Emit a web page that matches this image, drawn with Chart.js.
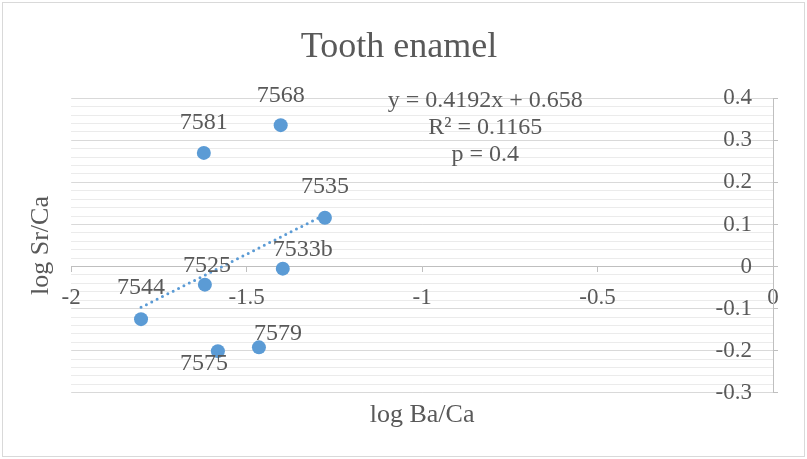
<!DOCTYPE html>
<html><head><meta charset="utf-8">
<script src="https://cdn.jsdelivr.net/npm/chart.js@4.4.0/dist/chart.umd.min.js"></script>
<style>html,body{margin:0;padding:0;background:#fff}canvas{display:block}</style>
</head><body>
<canvas id="c" width="807" height="459"></canvas>
<script>
// ---- data ----
const sampleLabels = ['7568', '7581', '7535', '7533b', '7525', '7544', '7575', '7579'];
const logBaCa = [-1.403, -1.622, -1.277, -1.397, -1.619, -1.801, -1.582, -1.465];
const logSrCa = [0.336, 0.270, 0.116, -0.005, -0.043, -0.125, -0.201, -0.192];
const trendX = [-1.801, -1.277];
const trendY = [-0.097, 0.123];
const xTicks = [-2, -1.5, -1, -0.5, 0];
const yTicks = [-0.3, -0.2, -0.1, 0, 0.1, 0.2, 0.3, 0.4];
const equationLines = ['y = 0.4192x + 0.658', 'R\u00b2 = 0.1165', 'p = 0.4'];
const chartTitle = 'Tooth enamel';
const xTitle = 'log Ba/Ca';
const yTitle = 'log Sr/Ca';

const FONT = 'Liberation Serif';
const TXT = '#595959';
const BLUE = '#5B9BD5';

const annot = {
  id: 'annot',
  beforeDraw(chart) {
    const c = chart.ctx;
    c.save();
    c.fillStyle = '#fff';
    c.fillRect(0, 0, chart.width, chart.height);
    c.strokeStyle = '#d9d9d9';
    c.lineWidth = 1;
    c.strokeRect(2.5, 2.5, chart.width - 5, chart.height - 5);
    c.restore();
  },
  afterDatasetsDraw(chart) {
    const c = chart.ctx;
    const xs = chart.scales.x, ys = chart.scales.y;
    const labelOffsets = [[0, -29], [0, -30], [0, -31], [20, -19], [2, -19], [0, -31], [-14, 13], [19, -14]];
    c.save();
    c.fillStyle = TXT;
    c.textAlign = 'center';
    c.textBaseline = 'middle';
    c.font = '24px "' + FONT + '"';
    sampleLabels.forEach((lab, i) => {
      const px = xs.getPixelForValue(logBaCa[i]) + labelOffsets[i][0];
      const py = ys.getPixelForValue(logSrCa[i]) + labelOffsets[i][1];
      c.fillText(lab, px, py);
    });
    const ex = xs.getPixelForValue(-0.82);
    const ey = ys.getPixelForValue(0.395);
    equationLines.forEach((t, i) => c.fillText(t, ex, ey + i * 27));
    c.restore();
  }
};

new Chart(document.getElementById('c'), {
  type: 'scatter',
  data: {
    datasets: [
      {
        data: logBaCa.map((x, i) => ({x: x, y: logSrCa[i]})),
        pointRadius: 7,
        pointHoverRadius: 7,
        backgroundColor: BLUE,
        borderColor: BLUE,
        borderWidth: 0,
        showLine: false
      },
      {
        type: 'line',
        data: trendX.map((x, i) => ({x: x, y: trendY[i]})),
        borderColor: BLUE,
        borderWidth: 3,
        borderDash: [0, 6],
        borderCapStyle: 'round',
        pointRadius: 0,
        fill: false
      }
    ]
  },
  options: {
    responsive: false,
    animation: false,
    devicePixelRatio: 1,
    layout: {padding: {left: 20, right: 29, top: 0, bottom: 28}},
    plugins: {
      legend: {display: false},
      tooltip: {enabled: false},
      title: {
        display: true,
        text: chartTitle,
        color: TXT,
        font: {family: FONT, size: 36, weight: 'normal'},
        padding: {top: 26, bottom: 29}
      }
    },
    scales: {
      x: {
        type: 'linear', min: -2, max: 0, position: {y: 0},
        afterBuildTicks: s => { s.ticks = xTicks.map(v => ({value: v})); },
        grid: {drawOnChartArea: false, drawTicks: true, tickLength: 5, color: '#bfbfbf'},
        border: {display: true, color: '#bfbfbf', width: 1},
        ticks: {padding: 13, color: TXT, font: {family: FONT, size: 23}, callback: v => String(v), maxRotation: 0, autoSkip: false}
      },
      y: {
        type: 'linear', min: -0.3, max: 0.4, position: {x: -0.06},
        afterBuildTicks: s => { s.ticks = yTicks.map(v => ({value: v})); },
        grid: {color: '#d9d9d9', drawTicks: false},
        border: {display: false},
        ticks: {padding: 0, color: TXT, font: {family: FONT, size: 23}, callback: v => String(v), autoSkip: false}
      },
      yr: {
        type: 'linear', position: 'right', min: -0.3, max: 0.4,
        afterBuildTicks: s => { s.ticks = yTicks.map(v => ({value: v})); },
        ticks: {display: false},
        grid: {drawOnChartArea: false, drawTicks: true, tickLength: 5, color: '#bfbfbf'},
        border: {display: true, color: '#bfbfbf', width: 1}
      },
      yl: {
        type: 'linear', position: 'left', min: -0.3, max: 0.4,
        ticks: {display: false, stepSize: 0.02},
        grid: {
          drawTicks: false, z: -2,
          color: ctx => {
            const v = ctx.tick ? ctx.tick.value * 10 : 0;
            return Math.abs(v - Math.round(v)) < 1e-6 ? 'rgba(0,0,0,0)' : '#ebebeb';
          }
        },
        border: {display: false},
        title: {display: true, text: yTitle, color: TXT, font: {family: FONT, size: 26}, padding: {top: 6, bottom: 14}}
      },
      xb: {
        type: 'linear', position: 'bottom', min: -2, max: 0,
        ticks: {display: false},
        grid: {display: false, drawTicks: false},
        border: {display: false},
        title: {display: true, text: xTitle, color: TXT, font: {family: FONT, size: 26}, padding: {top: 7, bottom: 0}}
      }
    }
  },
  plugins: [annot]
});
</script>
</body></html>
